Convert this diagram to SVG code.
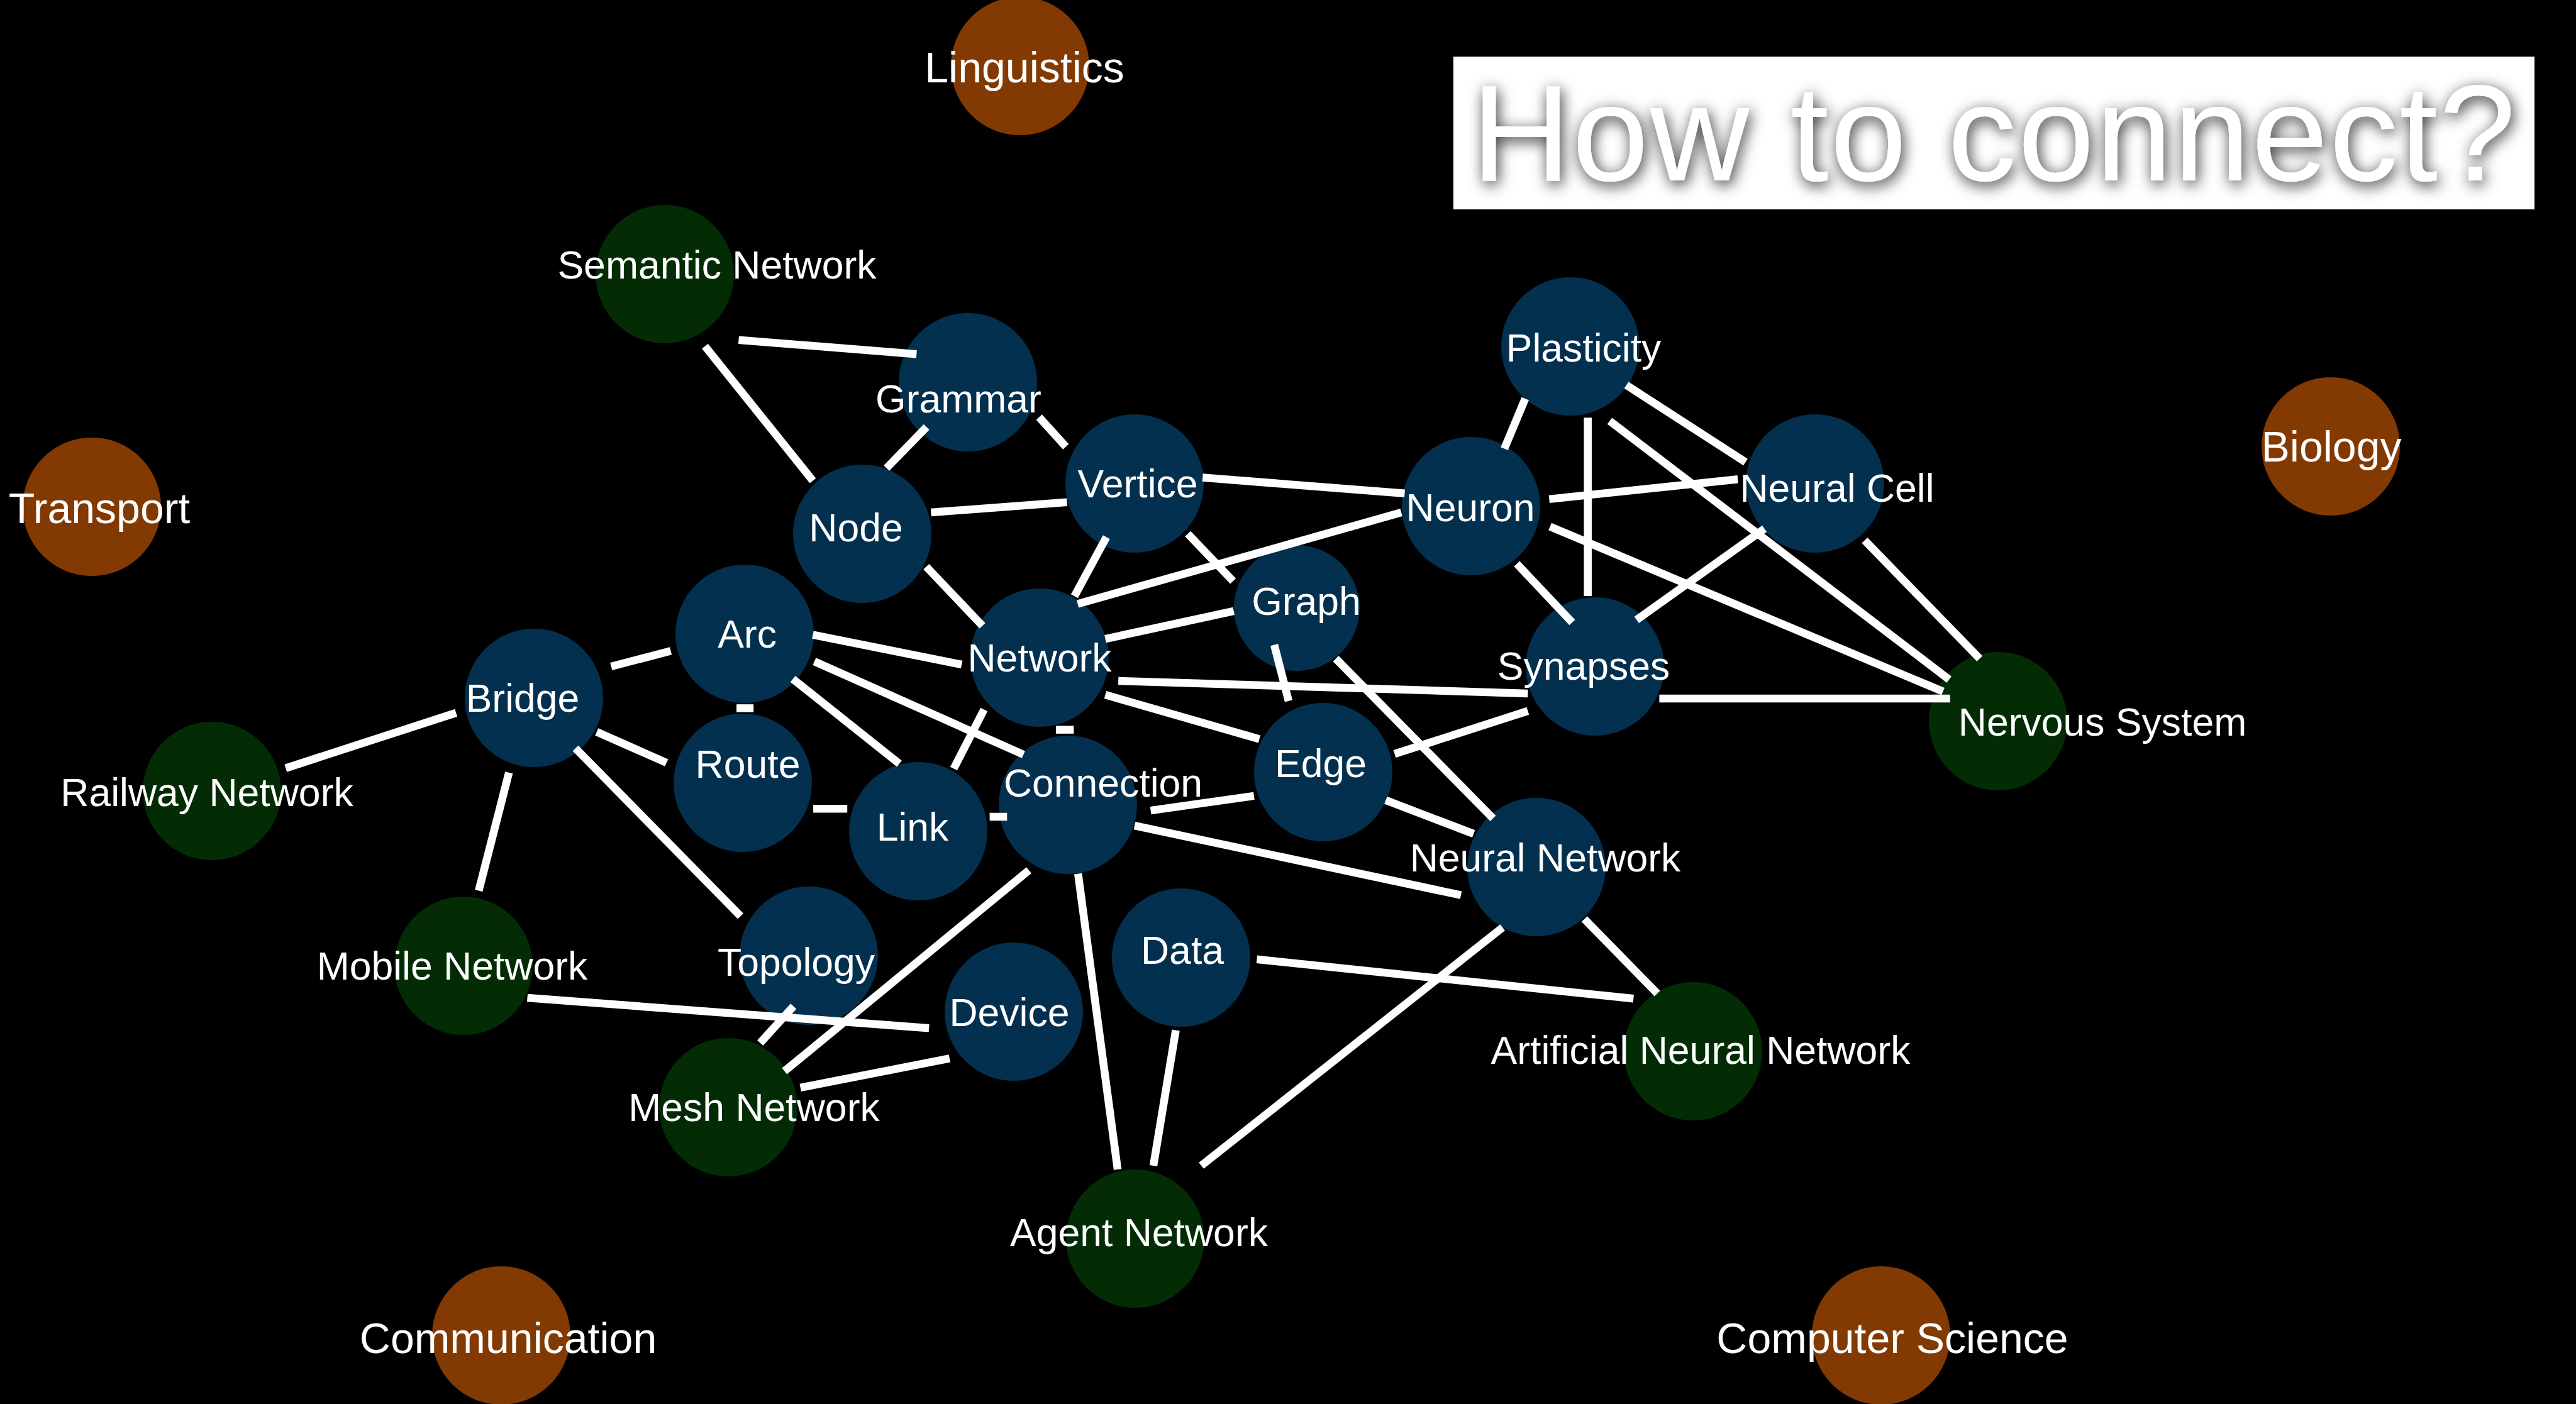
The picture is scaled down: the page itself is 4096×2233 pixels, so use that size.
<svg xmlns="http://www.w3.org/2000/svg" width="4096" height="2233" viewBox="0 0 4096 2233">
<style>
.bg{fill:#000}
.blue{fill:#03304e}
.green{fill:#032c05}
.orange{fill:#833a02}
.lbl{font-family:"Liberation Sans",Arial,Helvetica,sans-serif;font-size:62.5px;fill:#fff;text-anchor:middle}
.cat{font-family:"Liberation Sans",Arial,Helvetica,sans-serif;font-size:68px;fill:#fff;text-anchor:middle}
.edge line{stroke:#fff;stroke-width:12.5;stroke-linecap:butt}
.title{font-family:"Liberation Sans",Arial,Helvetica,sans-serif;font-size:218px;fill:#fff;text-anchor:middle}
</style>
<defs>
<filter id="shadow" x="-10%" y="-30%" width="120%" height="160%">
<feDropShadow dx="3" dy="6" stdDeviation="12" flood-color="#000" flood-opacity="0.85"/>
</filter>
</defs>
<rect class="bg" x="0" y="0" width="4096" height="2233"/>

<g id="title">
<rect x="2311" y="90" width="1719" height="243" fill="#fff"/>
<text class="title" x="3170" y="287" textLength="1660" lengthAdjust="spacing" filter="url(#shadow)">How to connect?</text>
</g>

<g id="nodes">
<g id="linguistics"><circle class="orange" cx="1622" cy="105" r="110"/><text class="cat" x="1629" y="131">Linguistics</text></g>
<g id="transport"><circle class="orange" cx="146" cy="806" r="110"/><text class="cat" x="158" y="832">Transport</text></g>
<g id="biology"><circle class="orange" cx="3706" cy="710" r="110"/><text class="cat" x="3707" y="734">Biology</text></g>
<g id="communication"><circle class="orange" cx="797" cy="2124" r="110"/><text class="cat" x="808" y="2152">Communication</text></g>
<g id="computer-science"><circle class="orange" cx="2991" cy="2124" r="110"/><text class="cat" x="3009" y="2152">Computer Science</text></g>

<g id="semantic-network"><circle class="green" cx="1057" cy="436" r="110"/><text class="lbl" x="1140" y="443">Semantic Network</text></g>
<g id="railway-network"><circle class="green" cx="337" cy="1258" r="110"/><text class="lbl" x="329" y="1282">Railway Network</text></g>
<g id="mobile-network"><circle class="green" cx="737" cy="1536" r="110"/><text class="lbl" x="719" y="1558">Mobile Network</text></g>
<g id="mesh-network"><circle class="green" cx="1158" cy="1761" r="110"/><text class="lbl" x="1199" y="1783">Mesh Network</text></g>
<g id="agent-network"><circle class="green" cx="1805" cy="1970" r="110"/><text class="lbl" x="1811" y="1982">Agent Network</text></g>
<g id="artificial-neural-network"><circle class="green" cx="2692" cy="1672" r="110"/><text class="lbl" x="2704" y="1692">Artificial Neural Network</text></g>
<g id="nervous-system"><circle class="green" cx="3177" cy="1147" r="110"/><text class="lbl" x="3343" y="1170">Nervous System</text></g>

<g id="grammar"><circle class="blue" cx="1539" cy="608" r="110"/><text class="lbl" x="1524" y="656">Grammar</text></g>
<g id="vertice"><circle class="blue" cx="1804" cy="769" r="110"/><text class="lbl" x="1809" y="791">Vertice</text></g>
<g id="node"><circle class="blue" cx="1371" cy="849" r="110"/><text class="lbl" x="1361" y="861">Node</text></g>
<g id="neuron"><circle class="blue" cx="2339" cy="805" r="110"/><text class="lbl" x="2338" y="829">Neuron</text></g>
<g id="plasticity"><circle class="blue" cx="2497" cy="551" r="110"/><text class="lbl" x="2518" y="575">Plasticity</text></g>
<g id="neural-cell"><circle class="blue" cx="2886" cy="769" r="110"/><text class="lbl" x="2921" y="798">Neural Cell</text></g>
<g id="arc"><circle class="blue" cx="1184" cy="1008" r="110"/><text class="lbl" x="1188" y="1030">Arc</text></g>
<g id="network"><circle class="blue" cx="1653" cy="1046" r="110"/><text class="lbl" x="1653" y="1068">Network</text></g>
<g id="graph"><circle class="blue" cx="2062" cy="967" r="100"/><text class="lbl" x="2077" y="978">Graph</text></g>
<g id="synapses"><circle class="blue" cx="2536" cy="1060" r="110"/><text class="lbl" x="2518" y="1081">Synapses</text></g>
<g id="bridge"><circle class="blue" cx="849" cy="1110" r="110"/><text class="lbl" x="831" y="1132">Bridge</text></g>
<g id="route"><circle class="blue" cx="1181" cy="1245" r="110"/><text class="lbl" x="1189" y="1237">Route</text></g>
<g id="link"><circle class="blue" cx="1460" cy="1322" r="110"/><text class="lbl" x="1451" y="1337">Link</text></g>
<g id="connection"><circle class="blue" cx="1698" cy="1280" r="110"/><text class="lbl" x="1754" y="1267">Connection</text></g>
<g id="edge"><circle class="blue" cx="2104" cy="1228" r="110"/><text class="lbl" x="2100" y="1236">Edge</text></g>
<g id="neural-network"><circle class="blue" cx="2443" cy="1379" r="110"/><text class="lbl" x="2457" y="1386">Neural Network</text></g>
<g id="topology"><circle class="blue" cx="1286" cy="1520" r="110"/><text class="lbl" x="1266" y="1552">Topology</text></g>
<g id="data"><circle class="blue" cx="1878" cy="1523" r="110"/><text class="lbl" x="1880" y="1533">Data</text></g>
<g id="device"><circle class="blue" cx="1612" cy="1609" r="110"/><text class="lbl" x="1605" y="1632">Device</text></g>
</g>

<g id="connectors" class="edge">
<line x1="1174.5" y1="540.7" x2="1457.4" y2="563.2"/>
<line x1="1120.9" y1="550.7" x2="1292.5" y2="764.6"/>
<line x1="1473.3" y1="679.2" x2="1409.6" y2="744.5"/>
<line x1="1652.2" y1="663.5" x2="1694.8" y2="710.5"/>
<line x1="1480.4" y1="815" x2="1696.6" y2="798.8"/>
<line x1="1472.8" y1="901.2" x2="1562.1" y2="995.3"/>
<line x1="1759.3" y1="854.2" x2="1708.4" y2="948.2"/>
<line x1="1713.6" y1="960.5" x2="2228.2" y2="815"/>
<line x1="1912.2" y1="759.6" x2="2233.5" y2="784.7"/>
<line x1="1888.7" y1="849" x2="1960.7" y2="924.2"/>
<line x1="1757.5" y1="1016.2" x2="1961.8" y2="971.8"/>
<line x1="1292.5" y1="1009.6" x2="1529.2" y2="1056.9"/>
<line x1="1778.2" y1="1083" x2="2429.4" y2="1102.9"/>
<line x1="1757.5" y1="1105" x2="2002.5" y2="1175.5"/>
<line x1="1678.9" y1="1160.6" x2="1707.4" y2="1160.6"/>
<line x1="1294.9" y1="1052" x2="1627.4" y2="1200.1"/>
<line x1="1260.7" y1="1079.9" x2="1430" y2="1214.7"/>
<line x1="1564.7" y1="1128.5" x2="1516.4" y2="1222.5"/>
<line x1="971.8" y1="1060" x2="1066.6" y2="1035.2"/>
<line x1="948.8" y1="1164" x2="1059.8" y2="1213.1"/>
<line x1="725.2" y1="1133.7" x2="454.3" y2="1221.7"/>
<line x1="809.3" y1="1228.8" x2="761.2" y2="1416.6"/>
<line x1="915" y1="1190.1" x2="1177.6" y2="1457.1"/>
<line x1="838.5" y1="1587" x2="1477.2" y2="1635.3"/>
<line x1="1261.7" y1="1600.5" x2="1208.7" y2="1658.8"/>
<line x1="1636" y1="1384.2" x2="1247.3" y2="1703.7"/>
<line x1="1509.9" y1="1683.3" x2="1272.7" y2="1729.8"/>
<line x1="1714.2" y1="1389.7" x2="1777.1" y2="1860"/>
<line x1="1869.6" y1="1638.4" x2="1834" y2="1853.9"/>
<line x1="2389.2" y1="1475.1" x2="1910.1" y2="1853.9"/>
<line x1="1998.4" y1="1525.8" x2="2597.3" y2="1588.2"/>
<line x1="2519.2" y1="1461.6" x2="2635.2" y2="1580.1"/>
<line x1="1804" y1="1313.2" x2="2323" y2="1423.7"/>
<line x1="1829.6" y1="1289.1" x2="1993.9" y2="1265.9"/>
<line x1="2203.4" y1="1272.7" x2="2343.2" y2="1326.2"/>
<line x1="2026.1" y1="1025.6" x2="2049" y2="1114.9"/>
<line x1="2124" y1="1047.5" x2="2374" y2="1301.7"/>
<line x1="2217.5" y1="1199" x2="2429.4" y2="1130.8"/>
<line x1="2411.9" y1="896.8" x2="2499.9" y2="990"/>
<line x1="2463.3" y1="793.9" x2="2763.2" y2="762.2"/>
<line x1="2464.6" y1="837.5" x2="3089.5" y2="1099.8"/>
<line x1="2425.2" y1="634" x2="2392" y2="713.7"/>
<line x1="2524.7" y1="664.3" x2="2524.7" y2="948"/>
<line x1="2586.1" y1="612.6" x2="2775.5" y2="735.1"/>
<line x1="2559.5" y1="669.5" x2="3099.2" y2="1080.7"/>
<line x1="2805.6" y1="840.9" x2="2602.3" y2="985.9"/>
<line x1="2964.9" y1="859.4" x2="3147.8" y2="1047.5"/>
<line x1="2638.4" y1="1111" x2="3100.8" y2="1111"/>
<line x1="1171.1" y1="1126.4" x2="1198.2" y2="1126.4"/>
<line x1="1573.6" y1="1299" x2="1601.3" y2="1299"/>
<line x1="1293.1" y1="1286.3" x2="1347.2" y2="1286.3"/>
</g>
</svg>
